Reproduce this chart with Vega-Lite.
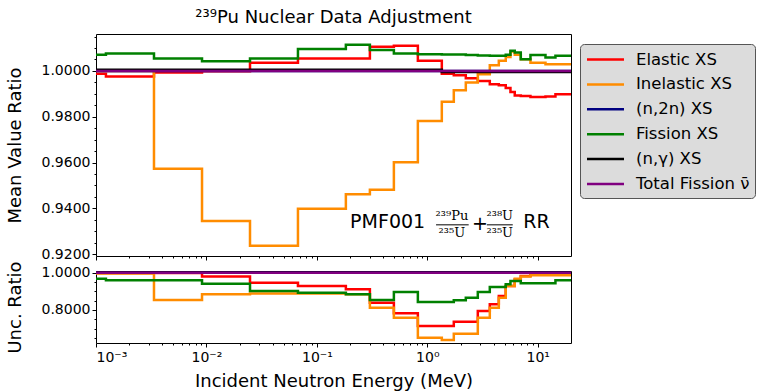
{
  "$schema": "https://vega.github.io/schema/vega-lite/v6.json",
  "padding": {"left": 5, "top": 8, "right": 0, "bottom": 0},
  "config": {
    "font": "DejaVu Sans",
    "view": {"stroke": "black", "strokeWidth": 1},
    "axis": {"labelFont": "DejaVu Sans", "titleFont": "DejaVu Sans", "titleFontWeight": "normal", "labelColor": "black", "titleColor": "black", "tickColor": "black", "domain": false, "grid": false, "labelFontSize": 14, "titleFontSize": 18},
    "title": {"font": "DejaVu Sans", "fontWeight": "normal", "fontSize": 18, "color": "black"}
  },
  "datasets": {
    "d": [
      {"p":"m","s":"Elastic XS","E":0.001,"v":0.9988},{"p":"m","s":"Elastic XS","E":0.00123,"v":0.9975},{"p":"m","s":"Elastic XS","E":0.00335,"v":0.9993},{"p":"m","s":"Elastic XS","E":0.00912,"v":0.9998},{"p":"m","s":"Elastic XS","E":0.0248,"v":1.0036},{"p":"m","s":"Elastic XS","E":0.0674,"v":1.0054},{"p":"m","s":"Elastic XS","E":0.183,"v":1.0054},{"p":"m","s":"Elastic XS","E":0.302,"v":1.0105},{"p":"m","s":"Elastic XS","E":0.498,"v":1.011},{"p":"m","s":"Elastic XS","E":0.821,"v":1.0044},{"p":"m","s":"Elastic XS","E":1.353,"v":0.9988},{"p":"m","s":"Elastic XS","E":1.737,"v":0.9981},{"p":"m","s":"Elastic XS","E":2.231,"v":0.9968},{"p":"m","s":"Elastic XS","E":2.865,"v":0.9956},{"p":"m","s":"Elastic XS","E":3.679,"v":0.9942},{"p":"m","s":"Elastic XS","E":4.44,"v":0.9937},{"p":"m","s":"Elastic XS","E":5.13,"v":0.9925},{"p":"m","s":"Elastic XS","E":5.66,"v":0.9908},{"p":"m","s":"Elastic XS","E":6.19,"v":0.9893},{"p":"m","s":"Elastic XS","E":7.02,"v":0.989},{"p":"m","s":"Elastic XS","E":8.59,"v":0.9886},{"p":"m","s":"Elastic XS","E":11.75,"v":0.9888},{"p":"m","s":"Elastic XS","E":14.46,"v":0.9898},{"p":"m","s":"Elastic XS","E":20,"v":0.9898},
      {"p":"m","s":"Inelastic XS","E":0.001,"v":1.0},{"p":"m","s":"Inelastic XS","E":0.00123,"v":1.0},{"p":"m","s":"Inelastic XS","E":0.00335,"v":0.9573},{"p":"m","s":"Inelastic XS","E":0.00912,"v":0.9345},{"p":"m","s":"Inelastic XS","E":0.0248,"v":0.9237},{"p":"m","s":"Inelastic XS","E":0.0674,"v":0.9398},{"p":"m","s":"Inelastic XS","E":0.183,"v":0.9462},{"p":"m","s":"Inelastic XS","E":0.302,"v":0.9481},{"p":"m","s":"Inelastic XS","E":0.498,"v":0.9601},{"p":"m","s":"Inelastic XS","E":0.821,"v":0.9781},{"p":"m","s":"Inelastic XS","E":1.353,"v":0.9865},{"p":"m","s":"Inelastic XS","E":1.737,"v":0.9915},{"p":"m","s":"Inelastic XS","E":2.231,"v":0.9949},{"p":"m","s":"Inelastic XS","E":2.865,"v":0.9985},{"p":"m","s":"Inelastic XS","E":3.679,"v":1.0025},{"p":"m","s":"Inelastic XS","E":4.44,"v":1.0044},{"p":"m","s":"Inelastic XS","E":5.13,"v":1.0061},{"p":"m","s":"Inelastic XS","E":5.66,"v":1.0085},{"p":"m","s":"Inelastic XS","E":6.19,"v":1.007},{"p":"m","s":"Inelastic XS","E":7.02,"v":1.0051},{"p":"m","s":"Inelastic XS","E":8.59,"v":1.0036},{"p":"m","s":"Inelastic XS","E":11.75,"v":1.0029},{"p":"m","s":"Inelastic XS","E":14.46,"v":1.0029},{"p":"m","s":"Inelastic XS","E":20,"v":1.0029},
      {"p":"m","s":"(n,2n) XS","E":0.001,"v":1.0},{"p":"m","s":"(n,2n) XS","E":20,"v":1.0},
      {"p":"m","s":"Fission XS","E":0.001,"v":1.007},{"p":"m","s":"Fission XS","E":0.00123,"v":1.0076},{"p":"m","s":"Fission XS","E":0.00335,"v":1.0054},{"p":"m","s":"Fission XS","E":0.00912,"v":1.0042},{"p":"m","s":"Fission XS","E":0.0248,"v":1.0054},{"p":"m","s":"Fission XS","E":0.0674,"v":1.0095},{"p":"m","s":"Fission XS","E":0.183,"v":1.0114},{"p":"m","s":"Fission XS","E":0.302,"v":1.0091},{"p":"m","s":"Fission XS","E":0.498,"v":1.0076},{"p":"m","s":"Fission XS","E":0.821,"v":1.0073},{"p":"m","s":"Fission XS","E":1.353,"v":1.0072},{"p":"m","s":"Fission XS","E":1.737,"v":1.0071},{"p":"m","s":"Fission XS","E":2.231,"v":1.0069},{"p":"m","s":"Fission XS","E":2.865,"v":1.0067},{"p":"m","s":"Fission XS","E":3.679,"v":1.0066},{"p":"m","s":"Fission XS","E":4.44,"v":1.0066},{"p":"m","s":"Fission XS","E":5.13,"v":1.007},{"p":"m","s":"Fission XS","E":5.66,"v":1.0088},{"p":"m","s":"Fission XS","E":6.19,"v":1.008},{"p":"m","s":"Fission XS","E":7.02,"v":1.0051},{"p":"m","s":"Fission XS","E":8.59,"v":1.0069},{"p":"m","s":"Fission XS","E":11.75,"v":1.0058},{"p":"m","s":"Fission XS","E":14.46,"v":1.0066},{"p":"m","s":"Fission XS","E":20,"v":1.0066},
      {"p":"m","s":"(n,γ) XS","E":0.001,"v":1.0005},{"p":"m","s":"(n,γ) XS","E":1.353,"v":0.9995},{"p":"m","s":"(n,γ) XS","E":20,"v":0.9995},
      {"p":"m","s":"Total Fission ν̄","E":0.001,"v":1.0},{"p":"m","s":"Total Fission ν̄","E":20,"v":1.0},

      {"p":"u","s":"Elastic XS","E":0.001,"v":0.998},{"p":"u","s":"Elastic XS","E":0.00123,"v":0.998},{"p":"u","s":"Elastic XS","E":0.00335,"v":0.998},{"p":"u","s":"Elastic XS","E":0.00912,"v":0.979},{"p":"u","s":"Elastic XS","E":0.0248,"v":0.946},{"p":"u","s":"Elastic XS","E":0.0674,"v":0.929},{"p":"u","s":"Elastic XS","E":0.183,"v":0.911},{"p":"u","s":"Elastic XS","E":0.302,"v":0.839},{"p":"u","s":"Elastic XS","E":0.498,"v":0.782},{"p":"u","s":"Elastic XS","E":0.821,"v":0.714},{"p":"u","s":"Elastic XS","E":1.353,"v":0.714},{"p":"u","s":"Elastic XS","E":1.737,"v":0.737},{"p":"u","s":"Elastic XS","E":2.231,"v":0.737},{"p":"u","s":"Elastic XS","E":2.865,"v":0.795},{"p":"u","s":"Elastic XS","E":3.679,"v":0.831},{"p":"u","s":"Elastic XS","E":4.44,"v":0.875},{"p":"u","s":"Elastic XS","E":5.13,"v":0.929},{"p":"u","s":"Elastic XS","E":5.66,"v":0.929},{"p":"u","s":"Elastic XS","E":6.19,"v":0.964},{"p":"u","s":"Elastic XS","E":7.02,"v":0.982},{"p":"u","s":"Elastic XS","E":8.59,"v":0.991},{"p":"u","s":"Elastic XS","E":11.75,"v":0.991},{"p":"u","s":"Elastic XS","E":14.46,"v":0.991},{"p":"u","s":"Elastic XS","E":20,"v":0.991},
      {"p":"u","s":"Inelastic XS","E":0.001,"v":0.995},{"p":"u","s":"Inelastic XS","E":0.00123,"v":0.995},{"p":"u","s":"Inelastic XS","E":0.00335,"v":0.854},{"p":"u","s":"Inelastic XS","E":0.00912,"v":0.884},{"p":"u","s":"Inelastic XS","E":0.0248,"v":0.889},{"p":"u","s":"Inelastic XS","E":0.0674,"v":0.888},{"p":"u","s":"Inelastic XS","E":0.183,"v":0.884},{"p":"u","s":"Inelastic XS","E":0.302,"v":0.812},{"p":"u","s":"Inelastic XS","E":0.498,"v":0.759},{"p":"u","s":"Inelastic XS","E":0.821,"v":0.651},{"p":"u","s":"Inelastic XS","E":1.353,"v":0.639},{"p":"u","s":"Inelastic XS","E":1.737,"v":0.673},{"p":"u","s":"Inelastic XS","E":2.231,"v":0.673},{"p":"u","s":"Inelastic XS","E":2.865,"v":0.759},{"p":"u","s":"Inelastic XS","E":3.679,"v":0.812},{"p":"u","s":"Inelastic XS","E":4.44,"v":0.866},{"p":"u","s":"Inelastic XS","E":5.13,"v":0.929},{"p":"u","s":"Inelastic XS","E":5.66,"v":0.929},{"p":"u","s":"Inelastic XS","E":6.19,"v":0.968},{"p":"u","s":"Inelastic XS","E":7.02,"v":0.979},{"p":"u","s":"Inelastic XS","E":8.59,"v":0.986},{"p":"u","s":"Inelastic XS","E":11.75,"v":0.986},{"p":"u","s":"Inelastic XS","E":14.46,"v":0.986},{"p":"u","s":"Inelastic XS","E":20,"v":0.986},
      {"p":"u","s":"(n,2n) XS","E":0.001,"v":1.0},{"p":"u","s":"(n,2n) XS","E":20,"v":1.0},
      {"p":"u","s":"Fission XS","E":0.001,"v":0.968},{"p":"u","s":"Fission XS","E":0.00123,"v":0.959},{"p":"u","s":"Fission XS","E":0.00335,"v":0.959},{"p":"u","s":"Fission XS","E":0.00912,"v":0.941},{"p":"u","s":"Fission XS","E":0.0248,"v":0.902},{"p":"u","s":"Fission XS","E":0.0674,"v":0.893},{"p":"u","s":"Fission XS","E":0.183,"v":0.884},{"p":"u","s":"Fission XS","E":0.302,"v":0.854},{"p":"u","s":"Fission XS","E":0.498,"v":0.897},{"p":"u","s":"Fission XS","E":0.821,"v":0.843},{"p":"u","s":"Fission XS","E":1.353,"v":0.843},{"p":"u","s":"Fission XS","E":1.737,"v":0.852},{"p":"u","s":"Fission XS","E":2.231,"v":0.866},{"p":"u","s":"Fission XS","E":2.865,"v":0.897},{"p":"u","s":"Fission XS","E":3.679,"v":0.923},{"p":"u","s":"Fission XS","E":4.44,"v":0.923},{"p":"u","s":"Fission XS","E":5.13,"v":0.938},{"p":"u","s":"Fission XS","E":5.66,"v":0.955},{"p":"u","s":"Fission XS","E":6.19,"v":0.955},{"p":"u","s":"Fission XS","E":7.02,"v":0.943},{"p":"u","s":"Fission XS","E":8.59,"v":0.943},{"p":"u","s":"Fission XS","E":11.75,"v":0.943},{"p":"u","s":"Fission XS","E":14.46,"v":0.959},{"p":"u","s":"Fission XS","E":20,"v":0.959},
      {"p":"u","s":"(n,γ) XS","E":0.001,"v":0.999},{"p":"u","s":"(n,γ) XS","E":20,"v":0.999},
      {"p":"u","s":"Total Fission ν̄","E":0.001,"v":1.0},{"p":"u","s":"Total Fission ν̄","E":20,"v":1.0}
    ],
    "one": [{}]
  },
  "spacing": 15,
  "bounds": "flush",
  "vconcat": [
    {
      "width": 475,
      "height": 222,
      "title": {"text": "²³⁹Pu Nuclear Data Adjustment", "offset": 7},
      "layer": [
        {
          "data": {"name": "d"},
          "transform": [{"filter": "datum.p == 'm'"}],
          "mark": {"type": "line", "interpolate": "step-after", "strokeWidth": 2.5, "clip": true},
          "encoding": {
            "x": {"field": "E", "type": "quantitative", "scale": {"type": "log", "domain": [0.001, 20], "nice": false}, "axis": {"values": [0.001, 0.01, 0.1, 1, 10], "labels": false, "tickSize": 4, "title": null, "orient": "bottom"}},
            "y": {"field": "v", "type": "quantitative", "scale": {"domain": [0.9192, 1.0161], "zero": false, "nice": false}, "axis": {"values": [0.92, 0.94, 0.96, 0.98, 1.0], "format": ".4f", "tickSize": 4, "title": "Mean Value Ratio", "titlePadding": 17, "orient": "left"}},
            "color": {"field": "s", "type": "nominal", "sort": null,
              "scale": {"domain": ["Elastic XS", "Inelastic XS", "(n,2n) XS", "Fission XS", "(n,γ) XS", "Total Fission ν̄"], "range": ["#ff0000", "#ff8c00", "#000080", "#008000", "#000000", "#800080"]},
              "legend": {"orient": "none", "legendX": 484, "legendY": 10, "title": null, "symbolType": "M-2,0L2,0", "symbolStrokeWidth": 2.5, "symbolSize": 342, "symbolOffset": 10, "labelFontSize": 16.5, "labelFont": "DejaVu Sans", "labelColor": "black", "fillColor": "#dcdcdc", "strokeColor": "#555555", "cornerRadius": 4, "padding": 5, "rowPadding": 5.9, "labelOffset": 20, "labelLimit": 200}}
          }
        },
        {
          "data": {"name": "d"},
          "transform": [{"filter": "datum.p == 'm'"}],
          "mark": {"type": "line", "opacity": 0},
          "encoding": {
            "x": {"field": "E", "type": "quantitative", "axis": {"values": [0.002,0.003,0.004,0.005,0.006,0.007,0.008,0.009,0.02,0.03,0.04,0.05,0.06,0.07,0.08,0.09,0.2,0.3,0.4,0.5,0.6,0.7,0.8,0.9,2,3,4,5,6,7,8,9], "labels": false, "tickSize": 2, "title": null, "orient": "bottom"}},
            "y": {"field": "v", "type": "quantitative", "axis": {"values": [0.925,0.93,0.935,0.945,0.95,0.955,0.965,0.97,0.975,0.985,0.99,0.995,1.005,1.01,1.015], "labels": false, "tickSize": 2, "title": null, "orient": "left"}},
            "detail": {"field": "s"}
          }
        },
        {
          "data": {"name": "one"},
          "mark": {"type": "text", "text": "PMF001", "fontSize": 19, "align": "left", "baseline": "middle", "color": "black"},
          "encoding": {"x": {"datum": 0.2, "type": "quantitative", "axis": null}, "y": {"datum": 0.9342, "type": "quantitative", "axis": null}}
        },
        {
          "data": {"name": "one"},
          "mark": {"type": "text", "text": "²³⁹Pu", "font": "DejaVu Serif", "fontSize": 13, "align": "center", "baseline": "middle", "color": "black"},
          "encoding": {"x": {"datum": 1.67, "type": "quantitative", "axis": null}, "y": {"datum": 0.9368, "type": "quantitative", "axis": null}}
        },
        {
          "data": {"name": "one"},
          "mark": {"type": "text", "text": "²³⁵U", "font": "DejaVu Serif", "fontSize": 13, "align": "center", "baseline": "middle", "color": "black"},
          "encoding": {"x": {"datum": 1.67, "type": "quantitative", "axis": null}, "y": {"datum": 0.9294, "type": "quantitative", "axis": null}}
        },
        {
          "data": {"name": "one"},
          "mark": {"type": "rule", "color": "black", "strokeWidth": 1},
          "encoding": {"x": {"datum": 1.2, "type": "quantitative", "axis": null}, "x2": {"datum": 2.37}, "y": {"datum": 0.9328, "type": "quantitative", "axis": null}}
        },
        {
          "data": {"name": "one"},
          "mark": {"type": "text", "text": "+", "fontSize": 19, "align": "center", "baseline": "middle", "color": "black"},
          "encoding": {"x": {"datum": 3.0, "type": "quantitative", "axis": null}, "y": {"datum": 0.9333, "type": "quantitative", "axis": null}}
        },
        {
          "data": {"name": "one"},
          "mark": {"type": "text", "text": "²³⁸U", "font": "DejaVu Serif", "fontSize": 13, "align": "center", "baseline": "middle", "color": "black"},
          "encoding": {"x": {"datum": 4.53, "type": "quantitative", "axis": null}, "y": {"datum": 0.9368, "type": "quantitative", "axis": null}}
        },
        {
          "data": {"name": "one"},
          "mark": {"type": "text", "text": "²³⁵U", "font": "DejaVu Serif", "fontSize": 13, "align": "center", "baseline": "middle", "color": "black"},
          "encoding": {"x": {"datum": 4.53, "type": "quantitative", "axis": null}, "y": {"datum": 0.9294, "type": "quantitative", "axis": null}}
        },
        {
          "data": {"name": "one"},
          "mark": {"type": "rule", "color": "black", "strokeWidth": 1},
          "encoding": {"x": {"datum": 3.46, "type": "quantitative", "axis": null}, "x2": {"datum": 5.94}, "y": {"datum": 0.9328, "type": "quantitative", "axis": null}}
        },
        {
          "data": {"name": "one"},
          "mark": {"type": "text", "text": "RR", "fontSize": 19, "align": "left", "baseline": "middle", "color": "black"},
          "encoding": {"x": {"datum": 7.4, "type": "quantitative", "axis": null}, "y": {"datum": 0.9342, "type": "quantitative", "axis": null}}
        }
      ],
      "resolve": {"axis": {"x": "independent", "y": "independent"}}
    },
    {
      "width": 475,
      "height": 72,
      "data": {"name": "d"},
      "transform": [{"filter": "datum.p == 'u'"}],
      "layer": [
        {
          "mark": {"type": "line", "interpolate": "step-after", "strokeWidth": 2.5, "clip": true},
          "encoding": {
            "x": {"field": "E", "type": "quantitative", "scale": {"type": "log", "domain": [0.001, 20], "nice": false}, "axis": {"values": [0.001, 0.01, 0.1, 1, 10], "tickSize": 4, "labelPadding": 3, "title": "Incident Neutron Energy (MeV)", "titlePadding": 8, "orient": "bottom", "labelExpr": "datum.value < 0.005 ? '10⁻³' : datum.value < 0.05 ? '10⁻²' : datum.value < 0.5 ? '10⁻¹' : datum.value < 5 ? '10⁰' : '10¹'"}},
            "y": {"field": "v", "type": "quantitative", "scale": {"domain": [0.623, 1.009], "zero": false, "nice": false}, "axis": {"values": [0.8, 1.0], "format": ".4f", "tickSize": 4, "title": "Unc. Ratio", "titlePadding": 17, "orient": "left"}},
            "color": {"field": "s", "type": "nominal", "sort": null,
              "scale": {"domain": ["Elastic XS", "Inelastic XS", "(n,2n) XS", "Fission XS", "(n,γ) XS", "Total Fission ν̄"], "range": ["#ff0000", "#ff8c00", "#000080", "#008000", "#000000", "#800080"]},
              "legend": null}
          }
        },
        {
          "mark": {"type": "line", "opacity": 0},
          "encoding": {
            "x": {"field": "E", "type": "quantitative", "axis": {"values": [0.002,0.003,0.004,0.005,0.006,0.007,0.008,0.009,0.02,0.03,0.04,0.05,0.06,0.07,0.08,0.09,0.2,0.3,0.4,0.5,0.6,0.7,0.8,0.9,2,3,4,5,6,7,8,9], "labels": false, "tickSize": 2, "title": null, "orient": "bottom"}},
            "y": {"field": "v", "type": "quantitative", "axis": {"values": [0.65,0.7,0.75,0.85,0.9,0.95], "labels": false, "tickSize": 2, "title": null, "orient": "left"}},
            "detail": {"field": "s"}
          }
        }
      ],
      "resolve": {"axis": {"x": "independent", "y": "independent"}}
    }
  ],
  "resolve": {"legend": {"color": "independent"}}
}
